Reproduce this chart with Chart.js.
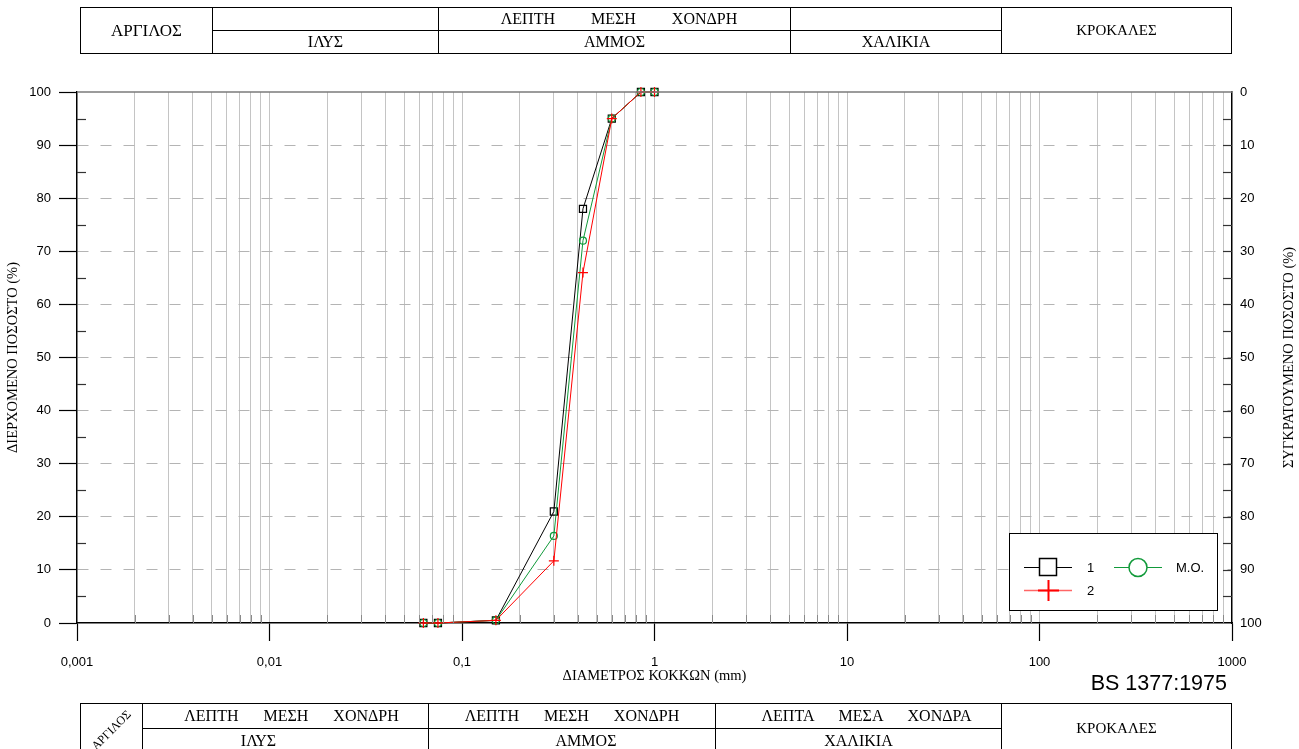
<!DOCTYPE html>
<html>
<head>
<meta charset="utf-8">
<script src="https://cdn.jsdelivr.net/npm/chart.js@4.4.1/dist/chart.umd.min.js"></script>
<style>
  body { margin: 0; width: 1299px; height: 749px; overflow: hidden; position: relative; background: #fff; }
  #wrap { position: absolute; left: 0; top: 0; width: 1299px; height: 749px; }
  table.band { position: absolute; border-collapse: collapse; table-layout: fixed;
    font-family: 'Liberation Serif', 'Times New Roman', serif; font-size: 16px; color: #000; }
  table.band td { border: 1px solid #000; padding: 0; text-align: center; vertical-align: middle; line-height: 1; white-space: nowrap; }
  .bs { position: absolute; right: 72px; top: 673px; font-family: 'Liberation Sans', Arial, sans-serif; font-size: 21.5px; line-height: 1; color: #000; }
  .rot { display: inline-block; transform: rotate(-45deg); font-size: 12px; }
</style>
</head>
<body>
<div id="wrap"><canvas id="c" width="1299" height="749"></canvas></div>

<table class="band" style="left:80px; top:7px; width:1151px; height:46px;">
  <colgroup><col style="width:132px"><col style="width:226px"><col style="width:352px"><col style="width:211px"><col style="width:230px"></colgroup>
  <tr style="height:23px"><td rowspan="2" style="font-size:17px">ΑΡΓΙΛΟΣ</td><td></td><td style="word-spacing:32px; padding-left:9px">ΛΕΠΤΗ ΜΕΣΗ ΧΟΝΔΡΗ</td><td></td><td rowspan="2" style="font-size:15px">ΚΡΟΚΑΛΕΣ</td></tr>
  <tr style="height:23px"><td>ΙΛΥΣ</td><td>ΑΜΜΟΣ</td><td>ΧΑΛΙΚΙΑ</td></tr>
</table>

<div class="bs">BS 1377:1975</div>

<table class="band" style="left:80px; top:703px; width:1151px; height:50px;">
  <colgroup><col style="width:62px"><col style="width:286px"><col style="width:287px"><col style="width:286px"><col style="width:230px"></colgroup>
  <tr style="height:25px"><td rowspan="2"><span class="rot">ΑΡΓΙΛΟΣ</span></td><td style="word-spacing:21px; padding-left:12px">ΛΕΠΤΗ ΜΕΣΗ ΧΟΝΔΡΗ</td><td style="word-spacing:21px">ΛΕΠΤΗ ΜΕΣΗ ΧΟΝΔΡΗ</td><td style="word-spacing:21px; padding-left:16px">ΛΕΠΤΑ ΜΕΣΑ ΧΟΝΔΡΑ</td><td rowspan="2" style="font-size:15px">ΚΡΟΚΑΛΕΣ</td></tr>
  <tr style="height:25px"><td style="padding-right:54px">ΙΛΥΣ</td><td style="padding-left:28px">ΑΜΜΟΣ</td><td>ΧΑΛΙΚΙΑ</td></tr>
</table>

<script>
// sieve sizes (mm) and percent passing
const sieveSizes = [0.063, 0.075, 0.15, 0.3, 0.425, 0.6, 0.85, 1.0];
const passing1  = [0, 0, 0.5, 21, 78, 95, 100, 100];
const passing2  = [0, 0, 0.5, 11.7, 66, 95, 100, 100];
const passingMO = [0, 0, 0.5, 16.4, 72, 95, 100, 100];

const seriesNames = ['1', '2', 'M.O.'];
const xDecades = [0.001, 0.01, 0.1, 1, 10, 100, 1000];
const xTickLabels = ['0,001', '0,01', '0,1', '1', '10', '100', '1000'];
const yTicks = [0, 10, 20, 30, 40, 50, 60, 70, 80, 90, 100];

const BLACK = '#000000';
const RED = '#ff0000';
const GREEN = '#119a3a';
const SANS = "'Liberation Sans', Arial, sans-serif";
const SERIF = "'Liberation Serif', 'Times New Roman', serif";
const TITLE_SIZE = 14.5;

const pts = (ys) => sieveSizes.map((x, i) => ({ x: x, y: ys[i] }));

// all 1..9 x 10^n positions for the log grid
const logTicks = [];
for (let e = -3; e < 3; e++) {
  for (let m = 1; m < 10; m++) logTicks.push(parseFloat((m * Math.pow(10, e)).toPrecision(6)));
}
logTicks.push(1000);

const isDecade = (v) => xDecades.some(d => Math.abs(Math.log10(v) - Math.log10(d)) < 1e-6);
const decadeLabel = (v) => {
  const i = xDecades.findIndex(d => Math.abs(Math.log10(v) - Math.log10(d)) < 1e-6);
  return i >= 0 ? xTickLabels[i] : '';
};

// extra ticks, frame line, right title and the boxed legend
const extras = {
  id: 'extras',
  afterDraw(chart) {
    const ctx = chart.ctx;
    const a = chart.chartArea;
    const xs = chart.scales.x, yl = chart.scales.y;
    ctx.save();
    // top frame
    ctx.strokeStyle = '#7a7a7a'; ctx.lineWidth = 1.5;
    ctx.beginPath(); ctx.moveTo(a.left, a.top); ctx.lineTo(a.right, a.top); ctx.stroke();
    // minor log ticks darker at bottom
    ctx.strokeStyle = '#8a8a8a'; ctx.lineWidth = 1;
    logTicks.forEach(v => {
      if (isDecade(v)) return;
      const px = Math.round(xs.getPixelForValue(v)) + 0.5;
      ctx.beginPath(); ctx.moveTo(px, a.bottom - 8); ctx.lineTo(px, a.bottom); ctx.stroke();
    });
    // inner 5% ticks on both y axes
    ctx.strokeStyle = '#333'; ctx.lineWidth = 1.2;
    for (let v = 5; v < 100; v += 5) {
      const py = Math.round(yl.getPixelForValue(v)) + 0.5;
      if (v % 10 !== 0) {
        ctx.beginPath(); ctx.moveTo(a.left, py); ctx.lineTo(a.left + 9, py); ctx.stroke();
      }
      ctx.beginPath(); ctx.moveTo(a.right - 9, py); ctx.lineTo(a.right, py); ctx.stroke();
    }
    // right axis title, reading upwards
    ctx.fillStyle = '#000';
    ctx.font = TITLE_SIZE + 'px ' + SERIF;
    ctx.textAlign = 'center'; ctx.textBaseline = 'middle';
    ctx.translate(1289, (a.top + a.bottom) / 2);
    ctx.rotate(-Math.PI / 2);
    ctx.fillText('ΣΥΓΚΡΑΤΟΥΜΕΝΟ ΠΟΣΟΣΤΟ (%)', 0, 0);
    ctx.restore();

    // legend box
    ctx.save();
    ctx.fillStyle = '#fff'; ctx.strokeStyle = '#000'; ctx.lineWidth = 1;
    ctx.fillRect(1009.5, 533.5, 208, 77);
    ctx.strokeRect(1009.5, 533.5, 208, 77);
    // 1
    ctx.strokeStyle = BLACK;
    ctx.beginPath(); ctx.moveTo(1024, 567.5); ctx.lineTo(1072, 567.5); ctx.stroke();
    ctx.lineWidth = 1.5; ctx.fillStyle = '#fff';
    ctx.fillRect(1039.5, 558.5, 17, 17); ctx.strokeRect(1039.5, 558.5, 17, 17);
    // M.O.
    ctx.strokeStyle = GREEN; ctx.lineWidth = 1;
    ctx.beginPath(); ctx.moveTo(1114, 567.5); ctx.lineTo(1162, 567.5); ctx.stroke();
    ctx.lineWidth = 1.5;
    ctx.beginPath(); ctx.arc(1138, 567.5, 9, 0, Math.PI * 2); ctx.fillStyle = '#fff'; ctx.fill(); ctx.stroke();
    // 2
    ctx.strokeStyle = 'rgba(255,0,0,0.6)'; ctx.lineWidth = 1.5;
    ctx.beginPath(); ctx.moveTo(1024, 590.5); ctx.lineTo(1072, 590.5); ctx.stroke();
    ctx.strokeStyle = RED; ctx.lineWidth = 2;
    ctx.beginPath(); ctx.moveTo(1038, 590.5); ctx.lineTo(1059, 590.5);
    ctx.moveTo(1048.5, 580); ctx.lineTo(1048.5, 601); ctx.stroke();
    // labels
    ctx.fillStyle = '#000'; ctx.font = '13px ' + SANS; ctx.textBaseline = 'middle'; ctx.textAlign = 'left';
    ctx.fillText(seriesNames[0], 1087, 568);
    ctx.fillText(seriesNames[1], 1087, 591);
    ctx.fillText(seriesNames[2], 1176, 568);
    ctx.restore();
  }
};

const ctx = document.getElementById('c').getContext('2d');
new Chart(ctx, {
  type: 'line',
  data: {
    datasets: [
      { label: seriesNames[0], data: pts(passing1), borderColor: BLACK, borderWidth: 1,
        pointStyle: 'rect', pointRadius: 5, pointBorderWidth: 1.2, pointBorderColor: BLACK,
        pointBackgroundColor: 'rgba(0,0,0,0)', order: 3, clip: false },
      { label: seriesNames[1], data: pts(passing2), borderColor: RED, borderWidth: 1,
        pointStyle: 'cross', pointRadius: 5, pointBorderWidth: 1.2, pointBorderColor: RED,
        pointBackgroundColor: RED, order: 1, clip: false },
      { label: seriesNames[2], data: pts(passingMO), borderColor: GREEN, borderWidth: 1,
        pointStyle: 'circle', pointRadius: 3.5, pointBorderWidth: 1.2, pointBorderColor: GREEN,
        pointBackgroundColor: 'rgba(0,0,0,0)', order: 2, clip: false }
    ]
  },
  options: {
    responsive: false,
    animation: false,
    devicePixelRatio: 1,
    layout: { padding: { top: 92, bottom: 64, left: 0, right: 0 } },
    plugins: { legend: { display: false }, tooltip: { enabled: false } },
    elements: { line: { tension: 0 } },
    scales: {
      x: {
        type: 'logarithmic', position: 'bottom', min: 0.001, max: 1000,
        afterBuildTicks: (s) => { s.ticks = logTicks.map(v => ({ value: v, major: isDecade(v) })); },
        afterFit: (s) => { s.height = 62; },
        ticks: {
          autoSkip: false, maxRotation: 0, minRotation: 0, padding: 14,
          color: '#000', font: { family: SANS, size: 13 },
          callback: (v) => decadeLabel(v)
        },
        grid: {
          color: (c) => (c.index === 0 || c.index === logTicks.length - 1) ? 'rgba(0,0,0,0)' : '#c4c4c4',
          lineWidth: 1, tickLength: 18, tickWidth: 1.2,
          tickColor: (c) => (c.tick && isDecade(c.tick.value)) ? '#000' : 'rgba(0,0,0,0)'
        },
        border: { color: '#000', width: 1.5 },
        title: { display: true, text: 'ΔΙΑΜΕΤΡΟΣ ΚΟΚΚΩΝ (mm)', color: '#000',
          font: { family: SERIF, size: TITLE_SIZE }, padding: { top: 0, bottom: 0 } }
      },
      y: {
        type: 'linear', position: 'left', min: 0, max: 100,
        afterBuildTicks: (s) => { s.ticks = yTicks.map(v => ({ value: v })); },
        afterFit: (s) => { s.width = 77; },
        ticks: { padding: 8, color: '#000', font: { family: SANS, size: 13 } },
        grid: {
          color: (c) => (c.tick && (c.tick.value === 0 || c.tick.value === 100)) ? 'rgba(0,0,0,0)' : '#b4b4b4',
          lineWidth: 1, tickLength: 18, tickColor: '#000', tickWidth: 1.2
        },
        border: { color: '#000', width: 1.5, dash: [11, 12] },
        title: { display: true, text: 'ΔΙΕΡΧΟΜΕΝΟ ΠΟΣΟΣΤΟ (%)', color: '#000',
          font: { family: SERIF, size: TITLE_SIZE }, padding: { top: 4, bottom: 0 } }
      },
      yr: {
        type: 'linear', position: 'right', min: 0, max: 100, reverse: true,
        afterBuildTicks: (s) => { s.ticks = yTicks.map(v => ({ value: v })); },
        afterFit: (s) => { s.width = 67; },
        ticks: { padding: 8, color: '#000', font: { family: SANS, size: 13 } },
        grid: { display: true, drawOnChartArea: false, drawTicks: false },
        border: { color: '#000', width: 1.5 }
      }
    }
  },
  plugins: [extras]
});
</script>
</body>
</html>
